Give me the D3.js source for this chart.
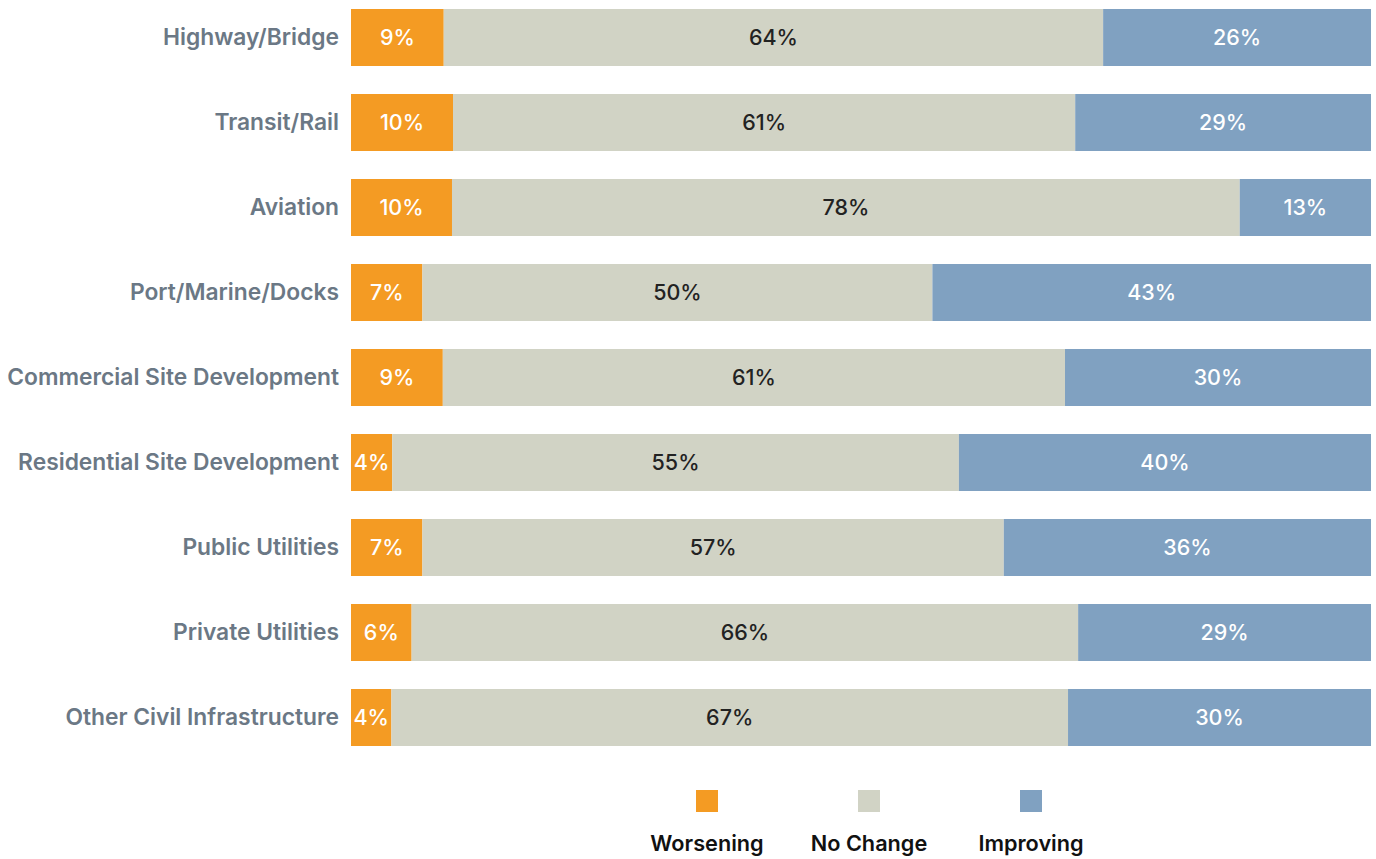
<!DOCTYPE html>
<html>
<head>
<meta charset="utf-8">
<script src="https://cdn.jsdelivr.net/npm/d3@7"></script>
<style>
  html, body { margin: 0; padding: 0; background: #fff; }
  svg { display: block; }
</style>
</head>
<body>
<svg id="chart" width="1376" height="859"></svg>
<script>
// Outlook by market segment (share of respondents, %)
const categories = [
  "Highway/Bridge",
  "Transit/Rail",
  "Aviation",
  "Port/Marine/Docks",
  "Commercial Site Development",
  "Residential Site Development",
  "Public Utilities",
  "Private Utilities",
  "Other Civil Infrastructure"
];
const seriesNames = ["Worsening", "No Change", "Improving"];
const worsening = [9, 10, 10, 7, 9, 4, 7, 6, 4];
const noChange  = [64, 61, 78, 50, 61, 55, 57, 66, 67];
const improving = [26, 29, 13, 43, 30, 40, 36, 29, 30];

const colors = ["#f49b23", "#d1d3c5", "#80a1c1"];
const textColors = ["#ffffff", "#222222", "#ffffff"];

const rows = categories.map((c, i) => ({
  category: c,
  "Worsening": worsening[i],
  "No Change": noChange[i],
  "Improving": improving[i]
}));

const svg = d3.select("#chart");
const fontFamily = "Inter, 'Noto Sans', sans-serif";

const x = d3.scaleLinear().domain([0, 1]).range([351, 1371]);
const y = d3.scaleBand()
  .domain(categories)
  .range([-5, 760])
  .paddingInner(28 / 85)
  .paddingOuter(14 / 85);

const stack = d3.stack().keys(seriesNames).offset(d3.stackOffsetExpand);
const layers = stack(rows);

const layerG = svg.append("g")
  .selectAll("g")
  .data(layers)
  .join("g")
  .attr("fill", (d, i) => colors[i]);

layerG.selectAll("rect")
  .data(d => d)
  .join("rect")
  .attr("x", d => x(d[0]))
  .attr("y", d => y(d.data.category))
  .attr("width", d => x(d[1]) - x(d[0]))
  .attr("height", y.bandwidth());

// Value labels centred in each segment
const labelG = svg.append("g")
  .attr("font-family", fontFamily)
  .attr("font-size", 21.5)
  .attr("font-weight", 500)
  .attr("text-anchor", "middle");

layers.forEach((layer, li) => {
  labelG.selectAll(null)
    .data(layer)
    .join("text")
    .attr("x", d => (x(d[0]) + x(d[1])) / 2)
    .attr("y", d => y(d.data.category) + y.bandwidth() / 2)
    .attr("dy", "0.36em")
    .attr("fill", textColors[li])
    .text(d => d.data[layer.key] + "%");
});

// Category axis
const yAxis = d3.axisLeft(y).tickSize(0).tickPadding(12);
const axisG = svg.append("g")
  .attr("transform", `translate(${x.range()[0]},0)`)
  .call(yAxis);
axisG.select(".domain").remove();
axisG.selectAll("text")
  .attr("font-family", fontFamily)
  .attr("font-size", 22.8)
  .attr("font-weight", 600)
  .attr("dy", "0.34em")
  .attr("fill", "#6b7885");

// Legend
const legendX = d3.scalePoint().domain(seriesNames).range([707, 1031]);
const legend = svg.append("g")
  .selectAll("g")
  .data(seriesNames)
  .join("g")
  .attr("transform", d => `translate(${legendX(d)},0)`);
legend.append("rect")
  .attr("x", -11).attr("y", 790)
  .attr("width", 22).attr("height", 22)
  .attr("fill", (d, i) => colors[i]);
legend.append("text")
  .attr("y", 851)
  .attr("text-anchor", "middle")
  .attr("font-family", fontFamily)
  .attr("font-size", 21.7)
  .attr("font-weight", 600)
  .attr("fill", "#111111")
  .text(d => d);
</script>
</body>
</html>
